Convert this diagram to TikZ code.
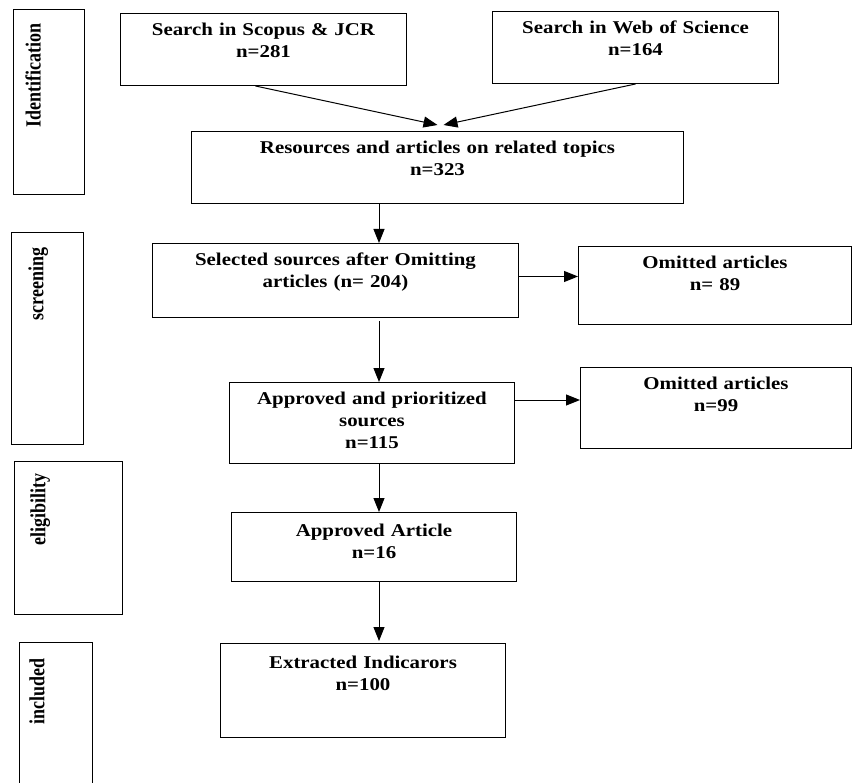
\documentclass[tikz,border=0pt]{standalone}
\usepackage{fontspec}
\setmainfont{Liberation Serif}[FakeStretch=1.16]
\newfontfamily\tagfont{Liberation Serif}
\usetikzlibrary{arrows.meta}
\tikzstyle{box}=[draw, anchor=north west, align=center, inner sep=0pt, text height=22pt,
  font=\bfseries\fontsize{18}{22}\selectfont]
\tikzstyle{phase}=[draw, anchor=north west, inner sep=0pt]
\tikzstyle{tag}=[rotate=90, anchor=north east, inner sep=0pt, font=\tagfont\bfseries\fontsize{18}{22}\selectfont]
\tikzstyle{arr}=[-{Triangle[length=14pt,width=11pt]}]

\begin{document}
\begin{tikzpicture}[x=1pt, y=-1pt, line width=1pt]
\clip (0,0) rectangle (853,783);
% Phases
    \node[phase, minimum width=71pt, minimum height=185pt] (ident) at (13,9) {};
    \node[phase, minimum width=72pt, minimum height=212pt] (screen) at (11,232) {};
    \node[phase, minimum width=108pt, minimum height=153pt] (elig) at (14,461) {};
    \node[phase, minimum width=73pt, minimum height=160pt] (incl) at (19,642) {};
    \node[tag] (identtag) at ([xshift=12pt,yshift=-14pt]ident.north west) {\scalebox{1}[1.2]{Identification}};
    \node[tag] (screentag) at ([xshift=17pt,yshift=-15pt]screen.north west) {\scalebox{1}[1.2]{screening}};
    \node[tag] (eligtag) at ([xshift=16pt,yshift=-12pt]elig.north west) {\scalebox{1}[1.2]{eligibility}};
    \node[tag] (incltag) at ([xshift=10pt,yshift=-16pt]incl.north west) {\scalebox{1}[1.2]{included}};
% Boxes
    \node[box, text width=286pt, text depth=50pt] (scopus) at (120,13) {Search in Scopus \& JCR\\n=281};
    \node[box, text width=286pt, text depth=50pt] (wos) at (492,11) {Search in Web of Science\\n=164};
    \node[box, text width=492pt, text depth=50pt] (res) at (191,131) {Resources and articles on related topics\\n=323};
    \node[box, text width=366pt, text depth=52pt] (sel) at (152,243) {Selected sources after Omitting\\articles (n= 204)};
    \node[box, text width=273pt, text depth=56pt] (omit1) at (578,246) {Omitted articles\\n= 89};
    \node[box, text width=285pt, text depth=59pt] (appr) at (229,382) {Approved and prioritized\\sources\\n=115};
    \node[box, text width=271pt, text depth=59pt] (omit2) at (580,367) {Omitted articles\\n=99};
    \node[box, text width=285pt, text height=24pt, text depth=45pt] (art) at (231,512) {Approved Article\\n=16};
    \node[box, text width=285pt, text height=25pt, text depth=69pt] (ext) at (220,643) {Extracted Indicarors\\n=100};
% Arrows
    \coordinate (spine) at (379,0);
    \draw[arr] ([xshift=-8pt]scopus.south) -- ([yshift=6pt]res.north);
    \draw[arr] (wos.south) -- ([xshift=6pt,yshift=6pt]res.north);
    \draw[arr] (res.south -| spine) -- (sel.north -| spine);
    \draw[arr] ([yshift=-3pt]sel.south -| spine) -- (appr.north -| spine);
    \draw[arr] (appr.south -| spine) -- (art.north -| spine);
    \draw[arr] (art.south -| spine) -- ([yshift=2pt]ext.north -| spine);
    \draw[arr] ([yshift=4pt]sel.east) -- ([yshift=4pt]sel.east -| omit1.west);
    \draw[arr] ([yshift=-18pt]appr.north east) -- ([yshift=-18pt]appr.north east -| omit2.west);
\end{tikzpicture}
\end{document}
